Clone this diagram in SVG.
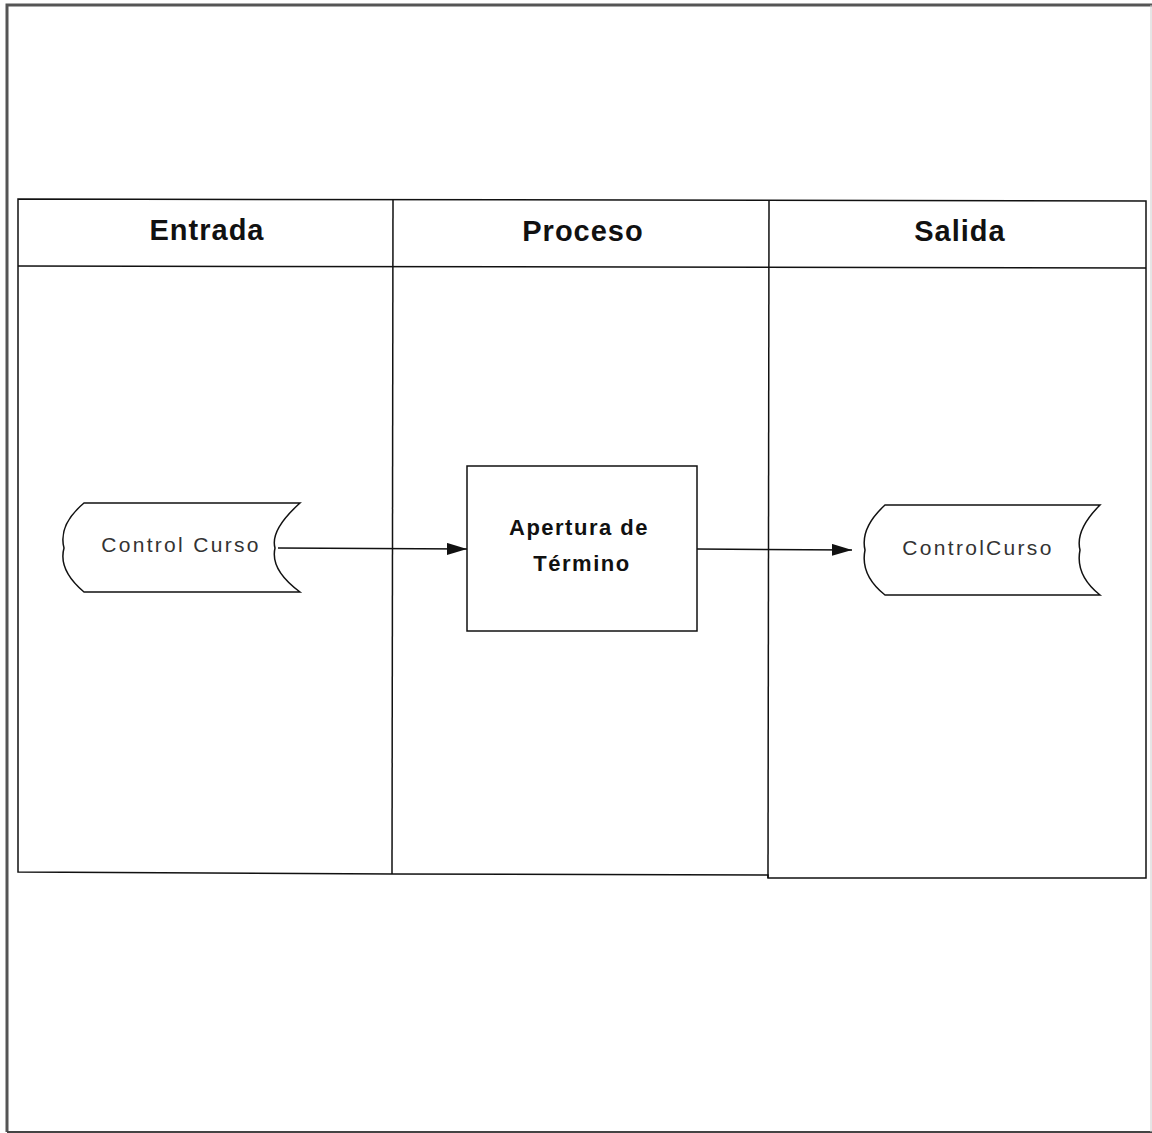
<svg xmlns="http://www.w3.org/2000/svg" width="1152" height="1133" viewBox="0 0 1152 1133">
<style>
.ln{fill:none;stroke:#111;stroke-width:1.5}
.frame{fill:none;stroke:#555;stroke-width:3}
.hdr{font-family:"Liberation Sans",Arial,sans-serif;font-weight:bold;font-size:29px;fill:#111;text-anchor:middle;letter-spacing:1px}
.ds{font-family:"Liberation Sans",Arial,sans-serif;font-size:21px;fill:#333;text-anchor:middle;letter-spacing:2.3px}
.pr{font-family:"Liberation Sans",Arial,sans-serif;font-weight:bold;font-size:22px;fill:#111;text-anchor:middle;letter-spacing:1.5px}
</style>
<defs>
<marker id="arr" markerWidth="20" markerHeight="12" refX="20" refY="6" orient="auto" markerUnits="userSpaceOnUse">
<path d="M0,0 L20,6 L0,12 Z" fill="#111"/>
</marker>
</defs>
<rect width="1152" height="1133" fill="#fff"/>
<path class="frame" d="M7,1132 L7,5 L1152,5"/>
<line x1="7" y1="1132" x2="1152" y2="1132" stroke="#444" stroke-width="2"/>
<line x1="1151" y1="5" x2="1151" y2="1132" stroke="#ccc" stroke-width="1"/>
<g id="swimlanes">
<path class="ln" d="M18,199 L1146,201 L1146,878 L768,878 L768,875 L393,874 L18,872 Z"/>
<line class="ln" x1="18" y1="266" x2="1146" y2="268"/>
<line class="ln" x1="393" y1="199" x2="392" y2="874"/>
<line class="ln" x1="769" y1="201" x2="768" y2="878"/>
<text class="hdr" x="207" y="240">Entrada</text>
<text class="hdr" x="583" y="241">Proceso</text>
<text class="hdr" x="960" y="241">Salida</text>
</g>
<g id="connectors">
<line class="ln" x1="278" y1="548" x2="467" y2="549" marker-end="url(#arr)" stroke-width="1.2"/>
<line class="ln" x1="697" y1="549" x2="852" y2="550" marker-end="url(#arr)" stroke-width="1.2"/>
</g>
<g id="store-in">
<path class="ln" d="M84,503 L300,503 Q270,530 275,548 Q270,570 300,592 L84,592 Q58,570 64,548 Q58,525 84,503 Z" fill="#fff"/>
<text class="ds" x="181" y="552">Control Curso</text>
</g>
<g id="process">
<rect class="ln" x="467" y="466" width="230" height="165" fill="#fff"/>
<text class="pr" x="579" y="535">Apertura de</text>
<text class="pr" x="582" y="571">Término</text>
</g>
<g id="store-out">
<path class="ln" d="M885,505 L1100,505 Q1075,530 1080,550 Q1075,575 1100,595 L885,595 Q860,575 865,550 Q860,528 885,505 Z" fill="#fff"/>
<text class="ds" x="978" y="555">ControlCurso</text>
</g>
</svg>
